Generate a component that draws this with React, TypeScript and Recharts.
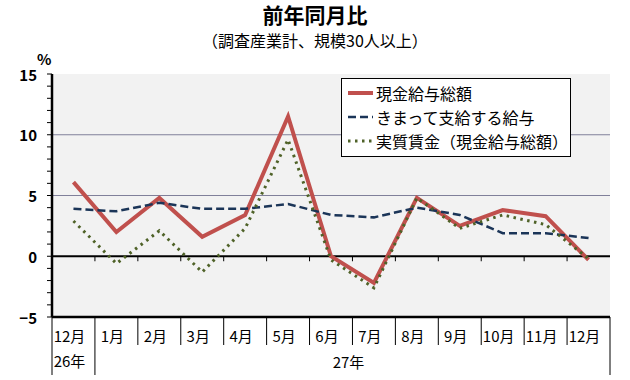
import {
    CartesianGrid,
    Legend,
    Line,
    LineChart,
    ReferenceLine,
    XAxis,
    YAxis,
} from 'recharts';

const months = ['12月', '1月', '2月', '3月', '4月', '5月', '6月', '7月', '8月', '9月', '10月', '11月', '12月'];
const yearLabels = ['26年', '27年'];

// 前年同月比 (%)
const cashTotal = [6.1, 2.0, 4.8, 1.6, 3.4, 11.5, 0.0, -2.2, 4.8, 2.5, 3.8, 3.3, -0.3];
const regularPay = [3.9, 3.7, 4.4, 3.9, 3.9, 4.3, 3.4, 3.2, 4.0, 3.4, 1.9, 1.9, 1.5];
const realWage = [2.9, -0.6, 2.1, -1.3, 2.3, 9.6, -0.3, -2.6, 4.8, 2.3, 3.4, 2.6, -0.2];

const yTicks = [-5, -4, -3, -2, -1, 0, 1, 2, 3, 4, 5, 6, 7, 8, 9, 10, 11, 12, 13, 14, 15];
const yGrid = [5, 10];

const seriesNames = ['現金給与総額', 'きまって支給する給与', '実質賃金（現金給与総額）'];

const W = 630;
const H = 380;
const LEFT = 52;
const RIGHT = 20;
const FONT = '"Noto Sans CJK JP", "Noto Sans", sans-serif';

const data = months.map((m, i) => ({
    m,
    cash: cashTotal[i],
    regular: regularPay[i],
    real: realWage[i],
}));

// half of one category slot, so points sit in the middle of each slot
const bandHalf = (W - LEFT - RIGHT) / months.length / 2;

const styles = [
    {key: 'cash', color: '#c0504d', width: 4, dash: undefined as string | undefined},
    {key: 'regular', color: '#1b3558', width: 2.5, dash: '8 4'},
    {key: 'real', color: '#4f6228', width: 3, dash: '2.5 4.5'},
];

function MonthTick(props: any) {
    const {x, y, payload, index} = props;
    const n = months.length;
    const left = x - bandHalf;
    const right = x + bandHalf;
    return (
        <g>
            <line x1={left} y1={y} x2={left} y2={y + (index <= 1 ? 58 : 28)} stroke="#000" strokeWidth={1}/>
            {index === n - 1 && (
                <line x1={right} y1={y} x2={right} y2={y + 58} stroke="#000" strokeWidth={1}/>
            )}
            <text x={x - 4} y={y + 18} textAnchor="middle" dominantBaseline="central"
                  fontSize={15} fontFamily={FONT} fill="#000">{payload.value}</text>
            {index === 0 && (
                <text x={x - 4} y={y + 43} textAnchor="middle" dominantBaseline="central"
                      fontSize={15} fontFamily={FONT} fill="#000">{yearLabels[0]}</text>
            )}
            {index === 1 && (
                <text x={x + (n - 2) * bandHalf - 4} y={y + 44} textAnchor="middle" dominantBaseline="central"
                      fontSize={15} fontFamily={FONT} fill="#000">{yearLabels[1]}</text>
            )}
        </g>
    );
}

function ValueTick(props: any) {
    const {x, y, payload} = props;
    if (payload.value % 5 !== 0) return <g/>;
    return (
        <text x={x} y={y} textAnchor="end" dominantBaseline="central" fontSize={15}
              fontWeight="bold" fontFamily={FONT} fill="#000">
            {payload.value < 0 ? `−${Math.abs(payload.value)}` : payload.value}
        </text>
    );
}

function ZeroLine(props: any) {
    const {x1, y1, x2} = props;
    const step = (x2 - x1) / months.length;
    return (
        <g>
            <line x1={x1} y1={y1} x2={x2} y2={y1} stroke="#000" strokeWidth={2}/>
            {months.slice(1).map((_, i) => (
                <line key={i} x1={x1 + step * (i + 1)} y1={y1} x2={x1 + step * (i + 1)} y2={y1 + 5}
                      stroke="#000" strokeWidth={1}/>
            ))}
        </g>
    );
}

function LegendBox() {
    return (
        <div style={{
            width: 228,
            height: 75,
            background: '#fff',
            border: '1px solid #000',
            fontFamily: FONT,
            fontSize: 16,
            color: '#000',
            boxSizing: 'content-box',
            paddingTop: 2,
        }}>
            {seriesNames.map((name, i) => (
                <div key={name} style={{display: 'flex', alignItems: 'center', height: 24, paddingLeft: 6}}>
                    <svg width={26} height={10} style={{marginRight: 2}}>
                        <line x1={0} y1={5} x2={25} y2={5} stroke={styles[i].color}
                              strokeWidth={styles[i].width} strokeDasharray={styles[i].dash}/>
                    </svg>
                    <span style={{whiteSpace: 'nowrap'}}>{name}</span>
                </div>
            ))}
        </div>
    );
}

export default function App() {
    return (
        <div style={{position: 'absolute', left: 0, top: 0, width: W, height: H, background: '#fff'}}>
            <div style={{
                position: 'absolute', left: 0, top: 3, width: W, textAlign: 'center',
                fontFamily: FONT, fontSize: 21, fontWeight: 'bold', lineHeight: '22px',
            }}>前年同月比
            </div>
            <div style={{
                position: 'absolute', left: 0, top: 31, width: W, textAlign: 'center',
                fontFamily: FONT, fontSize: 16, lineHeight: '18px',
            }}>（調査産業計、規模30人以上）
            </div>
            <div style={{
                position: 'absolute', left: 37, top: 49, fontFamily: FONT, fontSize: 15,
                fontWeight: 'bold', lineHeight: '20px',
            }}>%
            </div>
            <LineChart width={W} height={H} data={data}
                       margin={{top: 74, right: RIGHT, bottom: 0, left: 0}}>
                <CartesianGrid horizontal={false} vertical={false} fill="#f2f2f2" fillOpacity={1}/>
                {yGrid.map((v) => (
                    <ReferenceLine key={v} y={v} stroke="#80809a" strokeWidth={1}/>
                ))}
                <ReferenceLine y={0} shape={ZeroLine}/>
                <XAxis dataKey="m" interval={0} height={63} tickSize={0} tickMargin={0}
                       padding={{left: bandHalf, right: bandHalf}}
                       tickLine={false} axisLine={{stroke: '#000', strokeWidth: 2.5}} tick={MonthTick}/>
                <XAxis xAxisId="frame" orientation="top" dataKey="m" height={0} tick={false} tickLine={false}
                       axisLine={{stroke: '#000', strokeWidth: 2.5}}/>
                <YAxis domain={[-5, 15]} ticks={yTicks} interval={0} width={LEFT} tickSize={5}
                       tickMargin={10} axisLine={{stroke: '#000', strokeWidth: 2.5}}
                       tickLine={{stroke: '#000', strokeWidth: 1}} tick={ValueTick}/>
                <YAxis yAxisId="frame" orientation="right" domain={[-5, 15]} width={0} tick={false}
                       tickLine={false} axisLine={{stroke: '#000', strokeWidth: 2.5}}/>
                <Legend layout="vertical" align="center" verticalAlign="middle" content={LegendBox}
                        wrapperStyle={{left: 341, top: 78, width: 'auto'}}/>
                {styles.map((s, i) => (
                    <Line key={s.key} type="linear" dataKey={s.key} name={seriesNames[i]} stroke={s.color}
                          strokeWidth={s.width} strokeDasharray={s.dash} dot={false} activeDot={false}
                          isAnimationActive={false}/>
                ))}
            </LineChart>
        </div>
    );
}
